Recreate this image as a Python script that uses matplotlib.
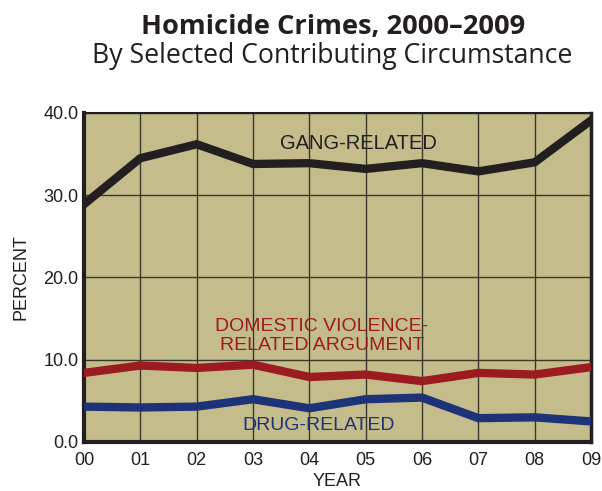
import matplotlib
matplotlib.use('Agg')
from matplotlib import pyplot as plt

# data
years = ['00', '01', '02', '03', '04', '05', '06', '07', '08', '09']
gang = [28.9, 34.5, 36.2, 33.8, 33.9, 33.2, 33.9, 32.9, 34.0, 39.1]
domestic = [8.4, 9.3, 9.0, 9.4, 7.9, 8.2, 7.4, 8.4, 8.2, 9.1]
drug = [4.3, 4.2, 4.3, 5.2, 4.1, 5.2, 5.4, 2.9, 3.0, 2.5]
y_ticks = [0, 10, 20, 30, 40]

bg = '#c4bd8b'
c_gang = '#231f20'
c_dom = '#9b1b20'
c_drug = '#1e3278'

fig = plt.figure(figsize=(6.02, 4.91), dpi=100)
ax = fig.add_axes([0.1395, 0.0998, 0.8422, 0.6701])
ax.set_facecolor(bg)

x = list(range(len(years)))
ax.plot(x, gang, color=c_gang, lw=6, solid_joinstyle='miter', zorder=3)
ax.plot(x, domestic, color=c_dom, lw=6, solid_joinstyle='miter', zorder=3)
ax.plot(x, drug, color=c_drug, lw=6, solid_joinstyle='miter', zorder=3)

ax.set_xlim(0, 9)
ax.set_ylim(0, 40)
ax.set_xticks(x)
ax.set_xticklabels(years)
ax.set_yticks(y_ticks)
ax.set_yticklabels(['%.1f' % v for v in y_ticks])
ax.grid(True, color='#3a362c', lw=1.0)
ax.tick_params(length=0, labelsize=13)
ax.tick_params(axis='x', pad=7)
ax.tick_params(axis='y', pad=4)
for lab in ax.get_xticklabels() + ax.get_yticklabels():
    lab.set_family('Liberation Sans')
    lab.set_color('#231f20')

for side in ['left', 'bottom']:
    ax.spines[side].set_linewidth(3)
ax.spines['right'].set_linewidth(2.5)
ax.spines['top'].set_linewidth(1.5)
for s in ax.spines.values():
    s.set_color('#231f20')

ax.set_xlabel('YEAR', fontsize=13, family='Liberation Sans', color='#231f20', labelpad=3)
ax.set_ylabel('PERCENT', fontsize=13, family='Liberation Sans', color='#231f20', labelpad=10)

ax.text(4.87, 36.3, 'GANG-RELATED', ha='center', va='center', fontsize=14.5,
        family=['Liberation Sans Narrow', 'Liberation Sans'], color=c_gang)
ax.text(4.22, 12.9, 'DOMESTIC VIOLENCE-\nRELATED ARGUMENT', ha='center', va='center',
        fontsize=14, family='Liberation Sans', color=c_dom, linespacing=1.15)
ax.text(4.16, 1.95, 'DRUG-RELATED', ha='center', va='center', fontsize=14,
        family='Liberation Sans', color=c_drug)

fig.text(0.554, 0.931, 'Homicide Crimes, 2000\u20132009', ha='center', va='baseline',
         fontsize=19.6, fontweight='bold', family='Open Sans', color='#231f20')
fig.text(0.552, 0.872, 'By Selected Contributing Circumstance', ha='center', va='baseline',
         fontsize=19.2, family='Open Sans', color='#231f20')

fig.savefig('out.png', dpi=100)
